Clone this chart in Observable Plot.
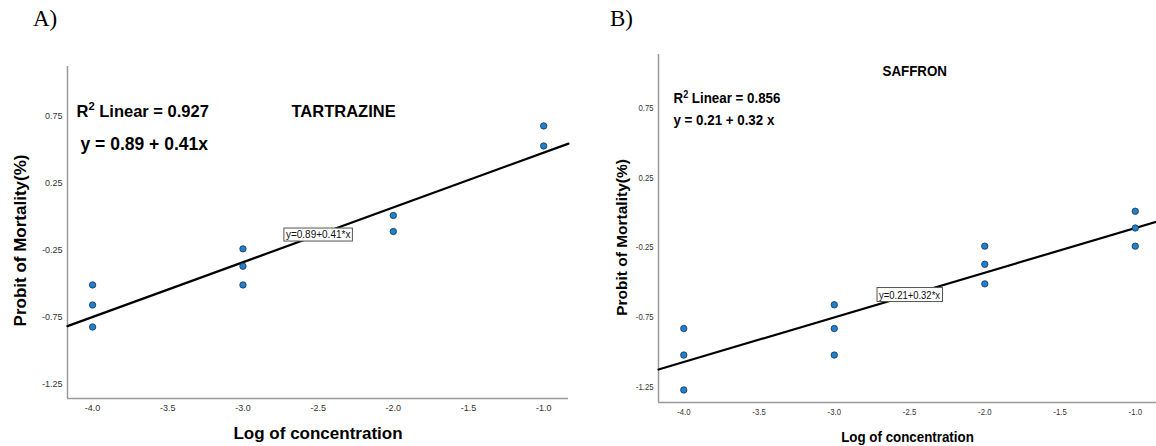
<!DOCTYPE html>
<html><head><meta charset="utf-8">
<script src="https://cdn.jsdelivr.net/npm/d3@7"></script>
<script src="https://cdn.jsdelivr.net/npm/@observablehq/plot@0.6"></script>
<style>
html,body{margin:0;padding:0;background:#fff}
body{width:1156px;height:446px;position:relative;overflow:hidden;font-family:"Liberation Sans",Arial,sans-serif}
.panel{position:absolute;top:0}
.tag{position:absolute;font-family:"Liberation Serif","Times New Roman",serif;font-size:23px;top:7px;line-height:1}
</style></head><body>
<div class="tag" style="left:33px">A)</div>
<div class="tag" style="left:610px">B)</div>
<div id="a" class="panel" style="left:0px"></div>
<div id="b" class="panel" style="left:580px"></div>
<script>
// ---- data ----
const logConcA = [-4, -4, -4, -3, -3, -3, -2, -2, -1, -1];
const probitA  = [-0.51, -0.66, -0.825, -0.24, -0.37, -0.51, 0.01, -0.11, 0.68, 0.53];
const logConcB = [-4, -4, -4, -3, -3, -3, -2, -2, -2, -1, -1, -1];
const probitB  = [-0.83, -1.02, -1.27, -0.66, -0.83, -1.02, -0.24, -0.37, -0.51, 0.01, -0.11, -0.24];
const xTicks = [-4.0, -3.5, -3.0, -2.5, -2.0, -1.5, -1.0];
const yTicks = [0.75, 0.25, -0.25, -0.75, -1.25];
const interceptA = 0.89, slopeA = 0.41;
const interceptB = 0.21, slopeB = 0.32;
const titleA = "TARTRAZINE", titleB = "SAFFRON";
const r2RestA = " Linear = 0.927", eqTextA = "y = 0.89 + 0.41x";
const r2RestB = " Linear = 0.856", eqTextB = "y = 0.21 + 0.32 x";
const fitLabelA = "y=0.89+0.41*x", fitLabelB = "y=0.21+0.32*x";
const fitLabelX = -2.5;
const xTitle = "Log of concentration", yTitle = "Probit of Mortality(%)";

const SVGNS = "http://www.w3.org/2000/svg";

function panel(o) {
  const xs = o.xs, ys = o.ys;
  const r2Full = "R2" + o.r2Rest;
  const chart = Plot.plot({
    width: o.width, height: 446,
    marginLeft: o.ml, marginRight: o.mr, marginTop: o.mt, marginBottom: o.mb,
    x: {domain: o.xDomain, ticks: xTicks},
    y: {domain: o.yDomain, ticks: yTicks},
    style: {fontFamily: "'Liberation Sans', Arial, sans-serif", fontSize: "9px", background: "transparent", color: "#000"},
    marks: [
      Plot.axisX({ticks: xTicks, tickSize: 0, tickPadding: 6, tickFormat: d => d.toFixed(1), label: null, fill: "#333"}),
      Plot.axisY({ticks: yTicks, tickSize: 0, tickPadding: 5, tickFormat: d => d.toFixed(2), label: null, fill: "#333"}),
      Plot.ruleX([o.xDomain[0]], {stroke: "#9a9a9a", strokeWidth: 1.5}),
      Plot.ruleY([o.yDomain[0]], {stroke: "#9a9a9a", strokeWidth: 1.5}),
      Plot.line(o.xDomain, {x: d => d, y: d => o.intercept + o.slope * d, stroke: "#000", strokeWidth: 2.2}),
      Plot.dot(xs, {x: d => d, y: (d, i) => ys[i], r: 3.2, fill: "#1f80cf", stroke: "#1d3349", strokeWidth: 0.8}),
      Plot.text([o.fitLabel], {x: () => fitLabelX, y: () => o.intercept + o.slope * fitLabelX, text: d => d, fontSize: o.fitFont, fill: "#111"}),
      Plot.text([o.title], {frameAnchor: "top-left", dx: o.titlePos[0], dy: o.titlePos[1], text: d => d, textAnchor: "start", lineAnchor: "middle", fontWeight: "bold", fontSize: o.annFont}),
      Plot.text([r2Full], {frameAnchor: "top-left", dx: o.r2Pos[0], dy: o.r2Pos[1], text: d => d, textAnchor: "start", lineAnchor: "middle", fontWeight: "bold", fontSize: o.annFont}),
      Plot.text([o.eq], {frameAnchor: "top-left", dx: o.eqPos[0], dy: o.eqPos[1], text: d => d, textAnchor: "start", lineAnchor: "middle", fontWeight: "bold", fontSize: o.eqFont}),
      Plot.text([yTitle], {frameAnchor: "left", dx: o.yTitlePos[0], dy: o.yTitlePos[1], rotate: -90, text: d => d, textAnchor: "middle", lineAnchor: "middle", fontWeight: "bold", fontSize: o.axFont}),
      Plot.text([xTitle], {frameAnchor: "bottom", dy: o.xTitleDy, text: d => d, textAnchor: "middle", lineAnchor: "middle", fontWeight: "bold", fontSize: o.axFont})
    ]
  });
  document.getElementById(o.id).appendChild(chart);
  const texts = Array.from(chart.querySelectorAll("text"));
  texts.forEach(t => {
    const s = t.textContent;
    // R² with a real superscript
    if (s === r2Full) {
      while (t.firstChild) t.removeChild(t.firstChild);
      const fs = parseFloat(o.annFont);
      t.appendChild(document.createTextNode("R"));
      const sup = document.createElementNS(SVGNS, "tspan");
      sup.setAttribute("font-size", (fs * 0.68).toFixed(1) + "px");
      sup.setAttribute("dy", (-fs * 0.38).toFixed(1));
      sup.textContent = "2";
      t.appendChild(sup);
      const rest = document.createElementNS(SVGNS, "tspan");
      rest.setAttribute("dy", (fs * 0.38).toFixed(1));
      rest.textContent = o.r2Rest;
      t.appendChild(rest);
    }
  });
  // narrow the horizontal text in panel B (condensed look of the reference)
  if (o.squeeze !== 1) {
    texts.forEach(t => {
      if (t.textContent === yTitle) return;
      const w = t.getComputedTextLength();
      t.setAttribute("textLength", (w * o.squeeze).toFixed(2));
      t.setAttribute("lengthAdjust", "spacingAndGlyphs");
    });
  }
  // white box with border behind the fit-line label
  texts.forEach(t => {
    if (t.textContent === o.fitLabel) {
      const b = t.getBBox();
      const r = document.createElementNS(SVGNS, "rect");
      r.setAttribute("x", b.x - 2); r.setAttribute("y", b.y - 1);
      r.setAttribute("width", b.width + 4); r.setAttribute("height", b.height + 2);
      r.setAttribute("fill", "#fff"); r.setAttribute("stroke", "#555"); r.setAttribute("stroke-width", 1);
      if (t.getAttribute("transform")) r.setAttribute("transform", t.getAttribute("transform"));
      t.parentNode.insertBefore(r, t);
    }
  });
}

panel({
  id: "a", width: 580, ml: 67, mr: 12, mt: 66, mb: 48,
  xDomain: [-4.167, -0.835], yDomain: [-1.36, 1.125],
  xs: logConcA, ys: probitA, intercept: interceptA, slope: slopeA,
  annFont: "16.5px", eqFont: "17.5px", axFont: "17px", fitFont: "10px", squeeze: 1,
  fitLabel: fitLabelA, title: titleA, r2Rest: r2RestA, eq: eqTextA,
  titlePos: [224, 45], r2Pos: [9, 45], eqPos: [13, 78],
  yTitlePos: [-47, 8], xTitleDy: 35
});

panel({
  id: "b", width: 576, ml: 78, mr: 0, mt: 54, mb: 44,
  xDomain: [-4.168, -0.859], yDomain: [-1.36, 1.133],
  xs: logConcB, ys: probitB, intercept: interceptB, slope: slopeB,
  annFont: "15.5px", eqFont: "15.5px", axFont: "15.5px", fitFont: "11px", squeeze: 0.86,
  fitLabel: fitLabelB, title: titleB, r2Rest: r2RestB, eq: eqTextB,
  titlePos: [224, 17], r2Pos: [15, 44], eqPos: [15, 66],
  yTitlePos: [-36, 9], xTitleDy: 35
});
</script>
</body></html>
